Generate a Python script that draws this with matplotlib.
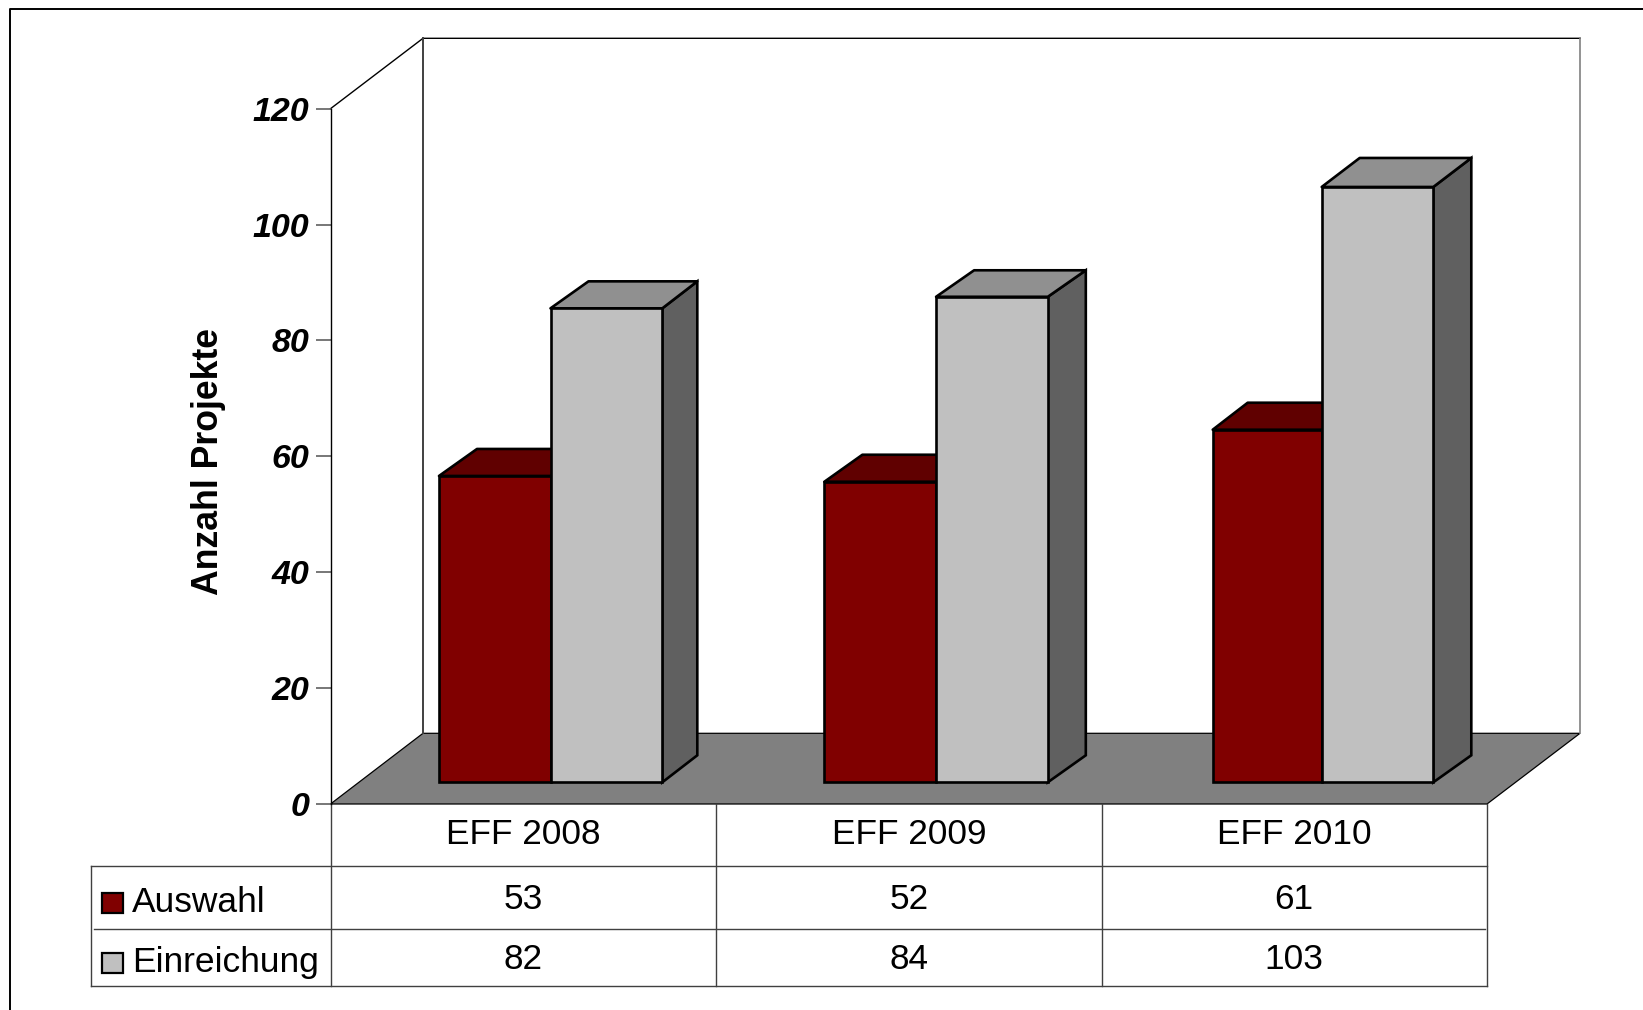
import matplotlib
matplotlib.use('Agg')
import matplotlib.pyplot as plt
from matplotlib.patches import Polygon, Rectangle

plt.rcParams['font.family'] = ['Liberation Sans', 'DejaVu Sans']

# Data
categories = ['EFF 2008', 'EFF 2009', 'EFF 2010']
auswahl = [53, 52, 61]
einreichung = [82, 84, 103]
series_names = ['Auswahl', 'Einreichung']
y_ticks = [0, 20, 40, 60, 80, 100, 120]
y_label = 'Anzahl Projekte'

# Colours
RED, RED_TOP = '#800000', '#600000'
GREY, GREY_TOP, GREY_SIDE = '#C0C0C0', '#909090', '#606060'
FLOOR = '#808080'
LINE = '#404040'

W, H = 1643, 1010

fig = plt.figure(figsize=(W / 100, H / 100), dpi=100, facecolor='white')

# Background layer in pixel coordinates: frame, walls, floor, table
bg = fig.add_axes([0, 0, 1, 1], zorder=0)
bg.set_xlim(0, W)
bg.set_ylim(H, 0)
bg.axis('off')

# outer frame (only top and left are visible)
bg.plot([W, 10, 10], [8.5, 8.5, H], color='black', lw=1.4)

# walls and floor
bg.plot([330.5, 423, 1580], [108.7, 38.3, 38.3], color='black', lw=1.0)
bg.plot([423, 423], [38.3, 733.3], color=LINE, lw=1.4)
bg.plot([1580, 1580], [38.3, 733.3], color='#808080', lw=1.2)
bg.add_patch(Polygon([(330.5, 804), (423, 733.3), (1580, 733.3), (1487, 804)],
                     closed=True, facecolor=FLOOR, edgecolor='black', lw=0.9))

# table
col_edges = [330.5, 716, 1101.5, 1487]
row_edges = [804, 866.3, 929.3, 986]
table_left = 91.3
bg.plot([table_left, col_edges[-1]], [row_edges[1]] * 2, color=LINE, lw=1.0)
bg.plot([94, 1485], [row_edges[2]] * 2, color=LINE, lw=1.0)
bg.plot([table_left, col_edges[-1]], [row_edges[3]] * 2, color=LINE, lw=1.0)
bg.plot([table_left, table_left], [row_edges[1], row_edges[3]], color=LINE, lw=1.0)
for x in col_edges:
    bg.plot([x, x], [row_edges[0], row_edges[3]], color=LINE, lw=1.0)

TEXT_SIZE = 25.4
baselines = [909, 969]
for i, cat in enumerate(categories):
    xc = (col_edges[i] + col_edges[i + 1]) / 2
    bg.text(xc, 843.6, cat, ha='center', va='baseline', fontsize=TEXT_SIZE)
    bg.text(xc, baselines[0], str(auswahl[i]), ha='center', va='baseline', fontsize=TEXT_SIZE)
    bg.text(xc, baselines[1], str(einreichung[i]), ha='center', va='baseline', fontsize=TEXT_SIZE)

# legend keys inside the table
for name, col, top, base in zip(series_names, [RED, GREY], [892.7, 952.7], [911.7, 971.7]):
    bg.add_patch(Rectangle((102, top), 20.5, 20.5, facecolor=col, edgecolor='black', lw=1.6))
    bg.text(132, base, name, ha='left', va='baseline', fontsize=25.5)

# y axis sits on the front edge of the floor
ay = fig.add_axes([330.5 / W, 1 - 804 / H, 0.05, (804 - 108.7) / H], zorder=1)
ay.patch.set_visible(False)
ay.set_ylim(0, 120)
ay.set_yticks(y_ticks)
ay.set_xticks([])
for s in ['top', 'right', 'bottom']:
    ay.spines[s].set_visible(False)
ay.spines['left'].set_linewidth(1.0)
ay.tick_params(axis='y', length=10.5, width=1.2, color='#606060', pad=5)
for lab in ay.get_yticklabels():
    lab.set_fontsize(24.5)
    lab.set_fontweight('bold')
    lab.set_fontstyle('italic')
bg.text(208, 461.5, y_label, rotation=90, ha='center', va='center',
        fontsize=25.7, fontweight='bold')

# Bars: front faces live in their own axes (categories on x, values on y)
X_STEP = 385.6   # px per category
Y_STEP = 5.78    # px per project
ax = fig.add_axes([(550.5 - X_STEP / 2) / W, 1 - 782.3 / H, 3 * X_STEP / W, 120 * Y_STEP / H], zorder=2)
ax.set_xlim(-0.5, 2.5)
ax.set_ylim(0, 120)
ax.axis('off')

# bar widths in px, and how far the back of each bar is shifted
red_w = [111.5, 111.7, 109.0]
grey_w = [111.8, 111.7, 111.6]
red_dx = [38, 38, 35]
grey_dx = [38, 38, 38]
side_dx = [35, 38, 38]
red_dy = [27, 27, 27]
grey_dy = [27, 26.5, 29]
base_dy = 27
EDGE = 1.9


def draw_top(x0, x1, v, dx, dx_right, dy, color):
    pts = [(x0, v), (x0 + dx / X_STEP, v + dy / Y_STEP),
           (x1 + dx_right / X_STEP, v + dy / Y_STEP), (x1, v)]
    ax.add_patch(Polygon(pts, closed=True, facecolor=color, edgecolor='black',
                         lw=EDGE, joinstyle='round', clip_on=False))


for i in range(len(categories)):
    wr = red_w[i] / X_STEP
    wg = grey_w[i] / X_STEP

    # red bar (its right side is hidden behind the grey one)
    draw_top(i - wr, i, auswahl[i], red_dx[i], red_dx[i], red_dy[i], RED_TOP)
    ax.bar(i, auswahl[i], width=-wr, align='edge', color=RED, edgecolor='black',
           linewidth=EDGE, clip_on=False)

    # grey bar with side and top
    v = einreichung[i]
    side = [(i + wg, 0), (i + wg + side_dx[i] / X_STEP, base_dy / Y_STEP),
            (i + wg + side_dx[i] / X_STEP, v + grey_dy[i] / Y_STEP), (i + wg, v)]
    ax.add_patch(Polygon(side, closed=True, facecolor=GREY_SIDE, edgecolor='black',
                         lw=EDGE, clip_on=False))
    draw_top(i, i + wg, v, grey_dx[i], side_dx[i], grey_dy[i], GREY_TOP)
    ax.bar(i, v, width=wg, align='edge', color=GREY, edgecolor='black',
           linewidth=EDGE, clip_on=False)

fig.savefig('out.png', dpi=100, facecolor='white')
plt.close(fig)
